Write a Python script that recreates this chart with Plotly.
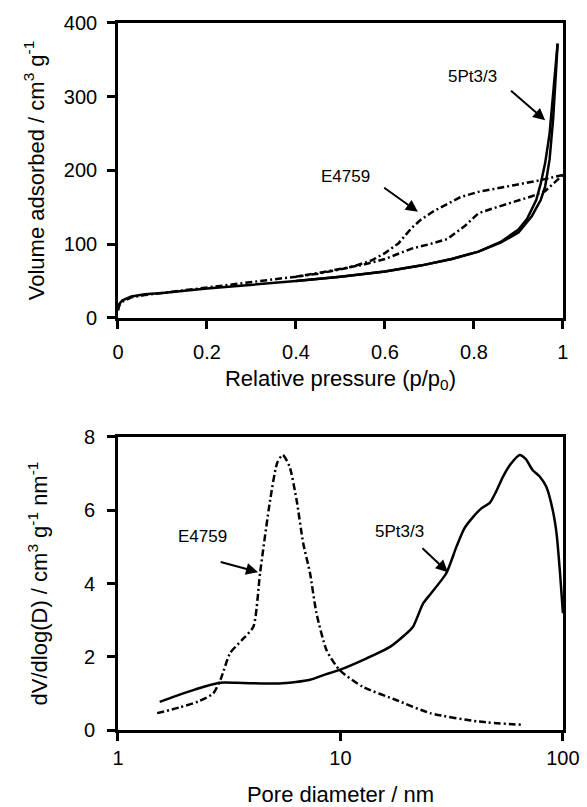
import plotly.graph_objects as go
import numpy as np

# ---- Top panel: N2 isotherms ----
pt_ads_p = [0.0, 0.003, 0.01, 0.03, 0.06, 0.1, 0.2, 0.3, 0.4, 0.5, 0.6, 0.68, 0.75, 0.81, 0.86, 0.9, 0.93, 0.95, 0.96, 0.97, 0.978, 0.984, 0.988]
pt_ads_v = [12, 19, 24, 29, 32, 34, 40, 45, 50, 56, 63, 71, 80, 90, 102, 116, 138, 160, 178, 215, 270, 330, 372]
pt_des_p = [0.988, 0.984, 0.978, 0.97, 0.96, 0.95, 0.94, 0.92, 0.9, 0.86, 0.81, 0.75, 0.68, 0.6, 0.5, 0.4]
pt_des_v = [372, 345, 300, 250, 210, 182, 160, 135, 120, 103, 90, 80, 71, 63, 56, 50]

e_ads_p = [0.0, 0.003, 0.01, 0.03, 0.06, 0.1, 0.2, 0.3, 0.4, 0.45, 0.5, 0.55, 0.6, 0.66, 0.7, 0.74, 0.78, 0.81, 0.85, 0.89, 0.93, 0.96, 1.0]
e_ads_v = [10, 17, 22, 28, 31, 34, 41, 48, 56, 61, 66, 72, 80, 94, 100, 107, 125, 142, 150, 157, 165, 172, 194]
e_des_p = [1.0, 0.95, 0.89, 0.85, 0.81, 0.77, 0.74, 0.71, 0.68, 0.66, 0.63, 0.6, 0.57, 0.53, 0.5, 0.45, 0.4]
e_des_v = [194, 187, 180, 176, 171, 164, 155, 145, 133, 122, 101, 88, 78, 70, 66, 60, 56]

# ---- Bottom panel: pore size distributions ----
e_d = [1.5, 1.9, 2.3, 2.68, 2.9, 3.19, 3.6, 4.06, 4.35, 4.83, 5.2, 5.5, 5.9, 6.35, 6.8, 7.3, 7.8, 8.66, 9.9, 12.6, 17.8, 25.3, 42, 66]
e_v = [0.46, 0.62, 0.78, 1.0, 1.4, 2.1, 2.45, 2.82, 4.28, 6.28, 7.3, 7.51, 7.2, 6.28, 5.1, 4.28, 3.19, 2.18, 1.64, 1.18, 0.82, 0.46, 0.23, 0.14]

pt_d = [1.54, 1.8, 2.18, 2.5, 2.87, 3.4, 3.92, 4.6, 5.5, 6.3, 7.3, 8.4, 9.9, 12.6, 16.7, 19.5, 21.2, 23.5, 25.3, 29.9, 33.2, 36, 39.5, 43, 46.9, 50, 53.8, 58, 63.9, 68, 73, 78.6, 84.2, 90, 93.6, 97, 100]
pt_v = [0.77, 0.92, 1.09, 1.2, 1.29, 1.29, 1.28, 1.27, 1.28, 1.31, 1.37, 1.5, 1.64, 1.91, 2.27, 2.6, 2.82, 3.45, 3.7, 4.28, 5.0, 5.5, 5.82, 6.05, 6.2, 6.5, 6.92, 7.25, 7.51, 7.4, 7.1, 6.92, 6.64, 6.0, 5.37, 4.3, 3.19]

FONT = "Liberation Sans, Arial, sans-serif"
E_DASH = "7px,3px,2px,3px"
TICK_SIZE = 20
TITLE_SIZE = 22

fig = go.Figure()
# top
fig.add_trace(go.Scatter(x=pt_ads_p, y=pt_ads_v, mode="lines", line=dict(color="black", width=2.5), xaxis="x", yaxis="y"))
fig.add_trace(go.Scatter(x=pt_des_p, y=pt_des_v, mode="lines", line=dict(color="black", width=2.5), xaxis="x", yaxis="y"))
fig.add_trace(go.Scatter(x=e_ads_p, y=e_ads_v, mode="lines", line=dict(color="black", width=2.5, dash=E_DASH), xaxis="x", yaxis="y"))
fig.add_trace(go.Scatter(x=e_des_p, y=e_des_v, mode="lines", line=dict(color="black", width=2.5, dash=E_DASH), xaxis="x", yaxis="y"))
# bottom
fig.add_trace(go.Scatter(x=pt_d, y=pt_v, mode="lines", line=dict(color="black", width=2.5, shape="spline", smoothing=0.6), xaxis="x2", yaxis="y2"))
fig.add_trace(go.Scatter(x=e_d, y=e_v, mode="lines", line=dict(color="black", width=2.5, dash=E_DASH, shape="spline", smoothing=0.6), xaxis="x2", yaxis="y2"))

axis_common = dict(showline=True, linecolor="black", linewidth=2.5, mirror=True, ticks="outside",
                   ticklen=8, tickwidth=2.5, tickcolor="black", showgrid=False, zeroline=False,
                   tickfont=dict(family=FONT, size=TICK_SIZE, color="black"), automargin=False)

fig.update_layout(
    width=587, height=807,
    margin=dict(l=0, r=0, t=0, b=0),
    paper_bgcolor="white", plot_bgcolor="white",
    showlegend=False,
    font=dict(family=FONT, color="black"),
    xaxis=dict(domain=[0.201, 0.959], anchor="y", range=[0, 1], tickvals=[0, 0.2, 0.4, 0.6, 0.8, 1],
               ticktext=["0", "0.2", "0.4", "0.6", "0.8", "1"], ticklabelstandoff=6,
               title=dict(text="Relative pressure (p/p<sub>0</sub>)", font=dict(family=FONT, size=TITLE_SIZE), standoff=9),
               **axis_common),
    yaxis=dict(domain=[0.606, 0.9715], anchor="x", range=[0, 400], tickvals=[0, 100, 200, 300, 400],
               ticklabelstandoff=6,
               title=dict(text="Volume adsorbed / cm<sup>3</sup> g<sup>-1</sup>", font=dict(family=FONT, size=TITLE_SIZE), standoff=14),
               **axis_common),
    xaxis2=dict(domain=[0.201, 0.959], anchor="y2", type="log", range=[0, 2], tickvals=[1, 10, 100],
                ticktext=["1", "10", "100"], ticklabelstandoff=0,
                title=dict(text="Pore diameter / nm", font=dict(family=FONT, size=TITLE_SIZE), standoff=24),
                **axis_common),
    yaxis2=dict(domain=[0.0954, 0.4585], anchor="x2", range=[0, 8], tickvals=[0, 2, 4, 6, 8],
                ticklabelstandoff=8,
                title=dict(text="dV/dlog(D) / cm<sup>3</sup> g<sup>-1</sup> nm<sup>-1</sup>", font=dict(family=FONT, size=TITLE_SIZE), standoff=31),
                **axis_common),
)

ann_font = dict(family=FONT, size=17, color="black")
annotations = [
    dict(x=0.96, y=268, ax=0.88, ay=310, xref="x", yref="y", axref="x", ayref="y",
         showarrow=True, arrowhead=2, arrowsize=1.2, arrowwidth=2, arrowcolor="black", text=""),
    dict(x=0.797, y=327, xref="x", yref="y", text="5Pt3/3", showarrow=False, font=ann_font),
    dict(x=0.674, y=144, ax=0.595, ay=178, xref="x", yref="y", axref="x", ayref="y",
         showarrow=True, arrowhead=2, arrowsize=1.2, arrowwidth=2, arrowcolor="black", text=""),
    dict(x=0.512, y=192, xref="x", yref="y", text="E4759", showarrow=False, font=ann_font),
    dict(x=np.log10(4.26), y=4.31, ax=np.log10(2.85), ay=4.6, xref="x2", yref="y2", axref="x2", ayref="y2",
         showarrow=True, arrowhead=2, arrowsize=1.2, arrowwidth=2, arrowcolor="black", text=""),
    dict(x=np.log10(2.4), y=5.28, xref="x2", yref="y2", text="E4759", showarrow=False, font=ann_font),
    dict(x=np.log10(30.4), y=4.31, ax=np.log10(23.0), ay=5.0, xref="x2", yref="y2", axref="x2", ayref="y2",
         showarrow=True, arrowhead=2, arrowsize=1.2, arrowwidth=2, arrowcolor="black", text=""),
    dict(x=np.log10(18.5), y=5.43, xref="x2", yref="y2", text="5Pt3/3", showarrow=False, font=ann_font),
]
fig.update_layout(annotations=annotations)

fig.write_html("out.html")
